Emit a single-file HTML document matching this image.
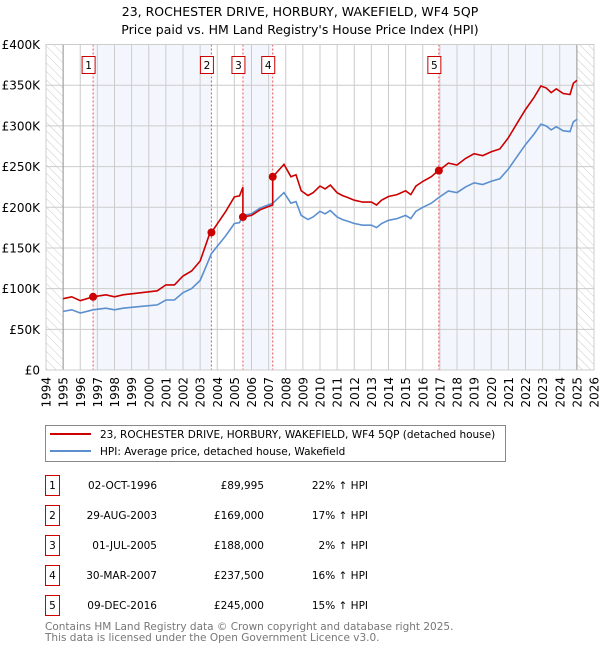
<!DOCTYPE html>
<html><head><meta charset="utf-8"><style>
body{margin:0;background:#fff;font-family:"DejaVu Sans","Liberation Sans",sans-serif;}
svg text{font-family:"DejaVu Sans","Liberation Sans",sans-serif;}
</style></head><body>
<svg id="c" width="600" height="650" viewBox="0 0 600 650" xmlns="http://www.w3.org/2000/svg">
<defs><pattern id="hatch" width="6" height="6" patternUnits="userSpaceOnUse" patternTransform="rotate(-45)"><line x1="0" y1="0" x2="0" y2="6" stroke="#ccc" stroke-width="1"/></pattern></defs>
<text x="300" y="16" text-anchor="middle" font-size="12.5">23, ROCHESTER DRIVE, HORBURY, WAKEFIELD, WF4 5QP</text>
<text x="300" y="34" text-anchor="middle" font-size="12.5">Price paid vs. HM Land Registry's House Price Index (HPI)</text>
<g id="plot"></g>
<g>
<rect x="45.5" y="425.5" width="460" height="36" fill="#fff" stroke="#888"/>
<line x1="50" y1="434" x2="91" y2="434" stroke="#cc0000" stroke-width="2"/>
<text x="100" y="438" font-size="10.5">23, ROCHESTER DRIVE, HORBURY, WAKEFIELD, WF4 5QP (detached house)</text>
<line x1="50" y1="451" x2="91" y2="451" stroke="#5b8fd0" stroke-width="2"/>
<text x="100" y="455" font-size="10.5">HPI: Average price, detached house, Wakefield</text>
</g>
<g id="table"></g>
<text x="45" y="630" font-size="10.5" fill="#777">Contains HM Land Registry data © Crown copyright and database right 2025.</text>
<text x="45" y="641" font-size="10.5" fill="#777">This data is licensed under the Open Government Licence v3.0.</text>
</svg>
<script>
const hpiT=[1995,1995.5,1996,1996.75,1997.5,1998,1998.5,1999,2000,2000.5,2001,2001.5,2002,2002.5,2003,2003.3,2003.66,2004,2004.5,2005,2005.3,2005.5,2006,2006.5,2007,2007.25,2007.5,2007.9,2008.3,2008.6,2008.9,2009.3,2009.6,2010,2010.3,2010.6,2011,2011.3,2011.6,2012,2012.5,2013,2013.3,2013.6,2014,2014.5,2015,2015.3,2015.6,2016,2016.5,2016.94,2017.5,2018,2018.5,2019,2019.5,2020,2020.5,2021,2021.5,2022,2022.5,2022.9,2023.2,2023.5,2023.8,2024.2,2024.6,2024.8,2025];
const hpiV=[72,74,70,74,76,74,76,77,79,80,86,86,95,100,110,125,143,152,165,180,181,190,192,199,203,205,210,218,205,207,190,185,188,195,192,196,188,185,183,180,178,178,175,180,184,186,190,186,195,200,205,212,220,218,225,230,228,232,235,247,262,277,290,302,300,295,299,294,293,305,308];
const saleLabels=["1","2","3","4","5"];
const saleT=[1996.75,2003.66,2005.5,2007.24,2016.94];
const saleP=[89995,169000,188000,237500,245000];
const saleDates=["02-OCT-1996","29-AUG-2003","01-JUL-2005","30-MAR-2007","09-DEC-2016"];
const salePrices=["£89,995","£169,000","£188,000","£237,500","£245,000"];
const saleDiff=["22% ↑ HPI","17% ↑ HPI","2% ↑ HPI","16% ↑ HPI","15% ↑ HPI"];
const yTicks=[0,50,100,150,200,250,300,350,400];
const yTickLabels=["£0","£50K","£100K","£150K","£200K","£250K","£300K","£350K","£400K"];
const xYears=[1994,1995,1996,1997,1998,1999,2000,2001,2002,2003,2004,2005,2006,2007,2008,2009,2010,2011,2012,2013,2014,2015,2016,2017,2018,2019,2020,2021,2022,2023,2024,2025,2026];

const X0=46,X1=594,Y0=370,Y1=44.5;
const xs=t=>X0+(t-1994)*(X1-X0)/32;
const ys=v=>Y0-v*(Y0-Y1)/400;
const NS="http://www.w3.org/2000/svg";
const plot=document.getElementById('plot');
function mk(tag,attrs,parent){const e=document.createElementNS(NS,tag);for(const k in attrs)e.setAttribute(k,attrs[k]);(parent||plot).appendChild(e);return e;}
function hpiAt(t){for(let i=1;i<hpiT.length;i++){if(t<=hpiT[i]){const f=(t-hpiT[i-1])/(hpiT[i]-hpiT[i-1]);return hpiV[i-1]+f*(hpiV[i]-hpiV[i-1]);}}return hpiV[hpiV.length-1];}

let e;
e=mk('rect',{x:X0,y:Y1,width:X1-X0,height:Y0-Y1,fill:'#fff'});


// shaded regions
const shadeFrom=[0,2,4];
shadeFrom.forEach(i=>{const a=saleT[i],b=i+1<saleT.length?saleT[i+1]:2025;
e=mk('rect',{x:xs(a),y:Y1,width:xs(b)-xs(a),height:Y0-Y1,fill:'#eef3fc',opacity:0.7});

});
// hatch
e=mk('rect',{x:xs(1994),y:Y1,width:xs(1995)-xs(1994),height:Y0-Y1,fill:'url(#hatch)'});


e=mk('rect',{x:xs(2025),y:Y1,width:xs(2026)-xs(2025),height:Y0-Y1,fill:'url(#hatch)'});


// grid
yTicks.forEach((v,i)=>{
e=mk('line',{x1:X0,x2:X1,y1:ys(v),y2:ys(v),stroke:'#ccc','stroke-width':1});


e=mk('text',{x:40,y:ys(v)+4.5,'text-anchor':'end','font-size':12});
e.textContent=yTickLabels[i];

});
xYears.forEach(y=>{
e=mk('line',{x1:xs(y),x2:xs(y),y1:Y1,y2:Y0,stroke:'#ccc','stroke-width':1});


e=mk('text',{x:0,y:0,'font-size':12,'text-anchor':'end',transform:`translate(${xs(y)+4.5},${Y0+7}) rotate(-90)`});
e.textContent=y;

});
e=mk('line',{x1:xs(1995),x2:xs(1995),y1:Y1,y2:Y0,stroke:'#999','stroke-width':1});


e=mk('line',{x1:xs(2025),x2:xs(2025),y1:Y1,y2:Y0,stroke:'#999','stroke-width':1});


// sale vlines
saleT.forEach((t,i)=>{
e=mk('line',{x1:xs(t),x2:xs(t),y1:Y1,y2:Y0,stroke:'#ee5555','stroke-width':1,'stroke-dasharray':'2,2'});


e=mk('rect',{x:xs(t)-11,y:56.5,width:13,height:17,fill:'#fff',stroke:'#cc0000'});


e=mk('text',{x:xs(t)-4.5,y:69,'text-anchor':'middle','font-size':10.5});
e.textContent=saleLabels[i];

});
// HPI line
let d=hpiT.map((t,i)=>(i?'L':'M')+xs(t).toFixed(1)+','+ys(hpiV[i]).toFixed(1)).join('');
e=mk('path',{d:d,fill:'none',stroke:'#5b8fd0','stroke-width':1.6});


// property line: HPI scaled by last sale ratio
const ratios=saleT.map((t,i)=>saleP[i]/1000/hpiAt(t));
const pts=[];
const allT=hpiT.concat(saleT).sort((a,b)=>a-b);
allT.forEach(t=>{let k=0;for(let i=0;i<saleT.length;i++)if(t>=saleT[i])k=i;
if(saleT.includes(t)&&saleT.indexOf(t)>0){const j=saleT.indexOf(t);pts.push([t,hpiAt(t)*ratios[j-1]]);}
pts.push([t,hpiAt(t)*ratios[k]]);});
d=pts.map((p,i)=>(i?'L':'M')+xs(p[0]).toFixed(1)+','+ys(p[1]).toFixed(1)).join('');
e=mk('path',{d:d,fill:'none',stroke:'#cc0000','stroke-width':1.6});


saleT.forEach((t,i)=>{
e=mk('circle',{cx:xs(t),cy:ys(saleP[i]/1000),r:4,fill:'#cc0000'});

});
e=mk('rect',{x:X0,y:Y1,width:X1-X0,height:Y0-Y1,fill:'none',stroke:'#ccc'});


// table
const tbl=document.getElementById('table');
saleLabels.forEach((l,i)=>{const y=485+i*30;
e=mk('rect',{x:45.5,y:y-9.5,width:14,height:20,fill:'#fff',stroke:'#cc0000'},tbl);


e=mk('text',{x:52.5,y:y+4,'text-anchor':'middle','font-size':10.5},tbl);e.textContent=l;


e=mk('text',{x:157,y:y+4,'text-anchor':'end','font-size':10.5},tbl);e.textContent=saleDates[i];


e=mk('text',{x:264,y:y+4,'text-anchor':'end','font-size':10.5},tbl);e.textContent=salePrices[i];


e=mk('text',{x:368,y:y+4,'text-anchor':'end','font-size':10.5},tbl);e.textContent=saleDiff[i];

});
</script>
</body></html>
